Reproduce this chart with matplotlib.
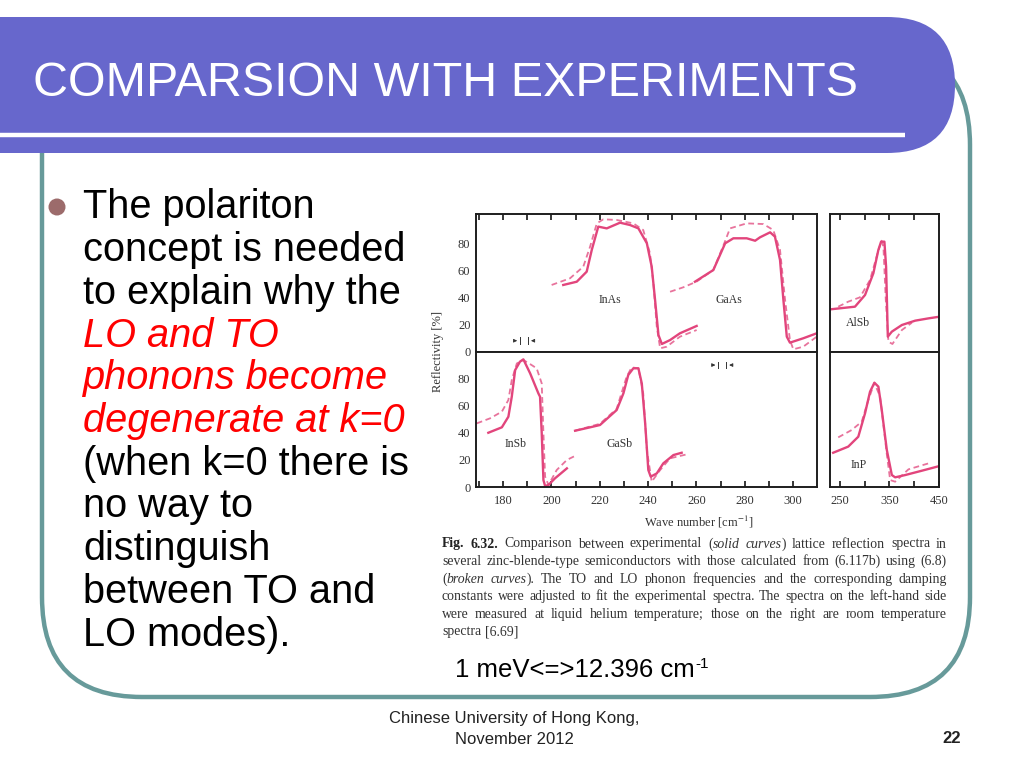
import matplotlib
matplotlib.use('Agg')
import matplotlib.pyplot as plt
from matplotlib.patches import FancyBboxPatch, Circle
from matplotlib.font_manager import FontProperties

plt.rcParams['mathtext.fontset'] = 'stix'

# ---------------- data (wave number cm^-1, reflectivity %) ----------------
inas_exp_x = [204.9, 210.5, 214.6, 216.7, 219.4, 222.9, 228.4, 232.5, 236.0, 239.5, 241.5, 242.9, 244.3, 245.7, 249.1, 253.2, 260.1]
inas_exp_y = [49.4, 51.8, 59.2, 75.2, 92.4, 91.1, 95.3, 93.6, 91.1, 80.1, 62.9, 38.3, 12.5, 5.9, 8.8, 13.8, 19.2]
inas_calc_x = [200.1, 207.7, 213.2, 216.0, 218.8, 221.5, 227.0, 233.9, 238.0, 240.8, 242.2, 243.6, 245.0, 247.7, 253.2, 260.1]
inas_calc_y = [49.4, 54.3, 62.9, 77.6, 94.8, 97.8, 97.3, 94.8, 89.9, 72.7, 50.6, 18.7, 2.7, 3.9, 11.3, 16.2]

gaas_exp_x = [259.4, 267.0, 271.9, 275.3, 280.8, 284.3, 286.3, 290.5, 292.5, 294.6, 296.0, 297.4, 298.7, 304.2, 309.8]
gaas_exp_y = [51.8, 60.4, 80.1, 83.8, 83.8, 82.0, 84.5, 88.2, 85.0, 67.8, 38.3, 11.3, 6.9, 10.1, 13.8]
gaas_calc_x = [249.1, 254.6, 260.0, 267.0, 271.5, 273.9, 280.8, 287.7, 291.8, 294.6, 296.7, 298.7, 300.1, 304.2, 309.8]
gaas_calc_y = [44.4, 47.7, 51.8, 60.4, 80.0, 91.1, 94.8, 94.3, 89.9, 75.2, 38.3, 8.8, 2.0, 3.9, 11.3]

insb_exp_x = [173.9, 179.5, 182.2, 183.6, 185.0, 187.0, 188.4, 191.2, 194.6, 195.3, 196.0, 196.7, 197.4, 198.8, 201.5, 206.4]
insb_exp_y = [39.9, 43.9, 51.7, 66.4, 86.0, 92.2, 93.9, 83.6, 68.9, 66.4, 39.5, 5.1, 0.7, 1.5, 6.4, 13.7]
insb_calc_x = [169.1, 174.6, 179.5, 182.2, 183.6, 185.7, 188.4, 191.2, 193.9, 196.0, 196.7, 197.4, 198.8, 202.2, 206.4, 210.5]
insb_calc_y = [46.8, 50.5, 55.4, 64.0, 78.7, 90.9, 93.4, 90.4, 87.3, 76.2, 39.5, 7.6, 1.5, 12.5, 19.9, 23.5]

gasb_exp_x = [209.8, 216.0, 220.1, 227.0, 229.8, 231.8, 233.9, 236.0, 237.4, 238.8, 240.1, 241.1, 243.6, 246.3, 250.5, 253.9]
gasb_exp_y = [41.4, 43.9, 45.6, 56.6, 68.9, 82.4, 87.3, 87.3, 76.2, 46.8, 12.5, 7.6, 10.0, 17.4, 23.5, 25.2]
gasb_calc_x = [209.8, 216.0, 220.1, 227.0, 231.1, 233.2, 236.0, 238.0, 239.5, 241.5, 245.0, 249.1, 256.7]
gasb_calc_y = [41.4, 44.5, 46.5, 57.5, 81.0, 88.0, 87.3, 68.9, 27.2, 3.9, 12.5, 21.1, 24.3]

alsb_exp_x = [229.7, 280.4, 300.7, 317.5, 327.6, 333.1, 339.8, 343.2, 346.7, 354.8, 375.1, 402.0, 429.0, 450.7]
alsb_exp_y = [31.4, 33.4, 42.0, 58.0, 75.2, 81.3, 81.3, 62.9, 11.3, 15.0, 19.9, 23.1, 24.8, 26.0]
alsb_calc_x = [246.6, 266.8, 290.5, 310.8, 325.0, 334.0, 337.8, 342.6, 347.9, 356.0, 375.1, 395.3]
alsb_calc_y = [33.4, 37.1, 40.3, 53.1, 71.5, 82.0, 77.6, 38.3, 7.6, 5.9, 16.2, 21.6]

inp_exp_x = [236.4, 266.8, 287.1, 300.7, 310.8, 319.6, 327.7, 334.5, 344.7, 354.8, 361.5, 381.8, 415.6, 450.7]
inp_exp_y = [25.2, 29.7, 37.0, 54.2, 70.1, 76.7, 73.8, 56.6, 27.2, 8.8, 7.1, 8.8, 12.0, 15.4]
inp_calc_x = [246.6, 273.7, 294.0, 307.4, 319.6, 331.1, 344.7, 351.4, 361.5, 388.4, 429.0]
inp_calc_y = [36.5, 41.9, 48.0, 64.0, 76.7, 66.4, 24.0, 5.1, 3.9, 13.0, 17.4]

left_xticks = list(range(170, 310, 10))
right_xticks = [250, 300, 350, 400, 450]
right_xlabels = ['250', '', '350', '', '450']
yticks = [0, 20, 40, 60, 80]

title = 'COMPARSION WITH EXPERIMENTS'
body_lines = [
    ('The polariton', 'k'), ('concept is needed', 'k'), ('to explain why the', 'k'),
    ('LO and TO', 'r'), ('phonons become', 'r'), ('degenerate at k=0', 'r'),
    ('(when k=0 there is', 'k'), ('no way to', 'k'), ('distinguish', 'k'),
    ('between TO and', 'k'), ('LO modes).', 'k'),
]
caption_lines = [
    "#Fig. #6.32. Comparison between experimental (|*solid *curves|) lattice reflection spectra in",
    "several zinc-blende-type semiconductors with those calculated from (6.117b) using (6.8)",
    "(|*broken *curves|). The TO and LO phonon frequencies and the corresponding damping",
    "constants were adjusted to fit the experimental spectra. The spectra on the left-hand side",
    "were measured at liquid helium temperature; those on the right are room temperature",
    "spectra [6.69]",
]

# ---------------- figure ----------------
W, H = 1024, 768
fig = plt.figure(figsize=(W / 100, H / 100), dpi=100)
bg = fig.add_axes([0, 0, 1, 1], zorder=0)
bg.set_xlim(0, W)
bg.set_ylim(H, 0)
bg.axis('off')

SANS = ['Liberation Sans', 'DejaVu Sans']
SERIF = ['Liberation Serif', 'DejaVu Serif']
TEAL = '#679a9a'

# teal rounded frame (its top is hidden behind the title banner)
bg.add_patch(FancyBboxPatch((42, 45), 928, 652,
                            boxstyle='round,pad=0,rounding_size=100',
                            fc='none', ec=TEAL, lw=3.2, zorder=1))
# title banner
bg.add_patch(FancyBboxPatch((-200, 17), 1155, 136,
                            boxstyle='round,pad=0,rounding_size=68',
                            fc='#6767cc', ec='none', zorder=2))
bg.plot([0, 905], [135, 135], color='white', lw=3.2, solid_capstyle='butt', zorder=3)
bg.text(33, 96, title, color='white', fontsize=34.8, family=SANS, va='baseline', ha='left', zorder=4)

# bullet & body
bg.add_patch(Circle((57, 207), 8.5, fc='#9c6b6b', ec='none', zorder=4))
for i, (line, c) in enumerate(body_lines):
    red = (c == 'r')
    bg.text(83, 218.5 + 42.7 * i, line, fontsize=28.6, family=SANS,
            color='#ff0000' if red else 'black', style='italic' if red else 'normal',
            va='baseline', ha='left', zorder=4)

# caption, justified
renderer = fig.canvas.get_renderer()
CAP_SIZE = 9.9


def fprop(st):
    return FontProperties(family=SERIF, size=CAP_SIZE,
                          weight='bold' if st == 'b' else 'normal',
                          style='italic' if st == 'i' else 'normal')


def twidth(s, st):
    w, h, d = renderer.get_text_width_height_descent(s, fprop(st), ismath=False)
    return w


space_w = twidth('a a', 'n') - twidth('aa', 'n')
cap_left, cap_right = 442, 947
for li, line in enumerate(caption_lines):
    words = []
    for wtok in line.split(' '):
        frags = []
        for f in wtok.split('|'):
            if f.startswith('#'):
                frags.append((f[1:], 'b'))
            elif f.startswith('*'):
                frags.append((f[1:], 'i'))
            else:
                frags.append((f, 'n'))
        words.append(frags)
    widths = [sum(twidth(t, st) for t, st in w) for w in words]
    last = (li == len(caption_lines) - 1)
    if last or len(words) < 2:
        gap = space_w
    else:
        gap = max(1.5, (cap_right - cap_left - sum(widths)) / (len(words) - 1))
    x = cap_left
    yb = 547.5 + 17.6 * li
    for w, ww in zip(words, widths):
        xx = x
        for t, st in w:
            bg.text(xx, yb, t, fontproperties=fprop(st),
                    color='#222222' if st == 'b' else '#333333',
                    va='baseline', ha='left', zorder=4)
            xx += twidth(t, st)
        x += ww + gap

# conversion note
note_main = '1 meV<=>12.396 cm'
bg.text(455, 677, note_main, fontsize=18.5, family=SANS, va='baseline', ha='left', zorder=4)
nw = renderer.get_text_width_height_descent(note_main, FontProperties(family=SANS, size=18.5), ismath=False)[0]
bg.text(455 + nw + 1, 668, '-1', fontsize=11, family=SANS, va='baseline', ha='left', zorder=4)

# footer
bg.text(514, 723, 'Chinese University of Hong Kong,', fontsize=12, family=SANS, ha='center', va='baseline', color='#222222')
bg.text(514, 744, 'November 2012', fontsize=12, family=SANS, ha='center', va='baseline', color='#222222')
bg.text(961, 743, '22', fontsize=12, family=SANS, weight='bold', ha='right', va='baseline', color='#222222')

# ---------------- chart axes ----------------
SOLID = '#e2457c'
DASH = '#e8739c'


def make_ax(x0, y0, x1, y1):
    return fig.add_axes([x0 / W, 1 - y1 / H, (x1 - x0) / W, (y1 - y0) / H], zorder=2)


ax_tl = make_ax(476, 214, 817, 352)
ax_bl = make_ax(476, 352, 817, 487)
ax_tr = make_ax(830, 214, 939, 352)
ax_br = make_ax(830, 352, 939, 487)

for ax in (ax_tl, ax_bl, ax_tr, ax_br):
    for sp in ax.spines.values():
        sp.set_linewidth(1.4)
        sp.set_color('#1e1e1e')
    ax.set_facecolor('white')

tick_font = FontProperties(family=SERIF, size=9)


def plot_pair(ax, ex, ey, cx, cy):
    ax.plot(cx, cy, color=DASH, lw=1.3, ls=(0, (3.2, 2.0)))
    ax.plot(ex, ey, color=SOLID, lw=1.7)


plot_pair(ax_tl, inas_exp_x, inas_exp_y, inas_calc_x, inas_calc_y)
plot_pair(ax_tl, gaas_exp_x, gaas_exp_y, gaas_calc_x, gaas_calc_y)
plot_pair(ax_bl, insb_exp_x, insb_exp_y, insb_calc_x, insb_calc_y)
plot_pair(ax_bl, gasb_exp_x, gasb_exp_y, gasb_calc_x, gasb_calc_y)
plot_pair(ax_tr, alsb_exp_x, alsb_exp_y, alsb_calc_x, alsb_calc_y)
plot_pair(ax_br, inp_exp_x, inp_exp_y, inp_calc_x, inp_calc_y)

ax_tl.set_xlim(168.8, 309.9)
ax_bl.set_xlim(168.8, 309.9)
ax_tr.set_xlim(230, 450)
ax_br.set_xlim(230, 450)
ax_tl.set_ylim(0, 101.7)
ax_tr.set_ylim(0, 101.7)
ax_bl.set_ylim(0, 99.3)
ax_br.set_ylim(0, 99.3)

for ax in (ax_tl, ax_bl):
    ax.set_xticks(left_xticks)
    ax.set_yticks(yticks)
    ax.set_yticklabels([str(v) for v in yticks], fontproperties=tick_font, color='#333333')
    ax.tick_params(axis='y', length=0, pad=4)
for ax in (ax_tr, ax_br):
    ax.set_xticks(right_xticks)
    ax.set_yticks([])

ax_tl.tick_params(axis='x', top=True, bottom=False, labeltop=False, labelbottom=False,
                  direction='in', length=4, width=1.1)
ax_tr.tick_params(axis='x', top=True, bottom=False, labeltop=False, labelbottom=False,
                  direction='in', length=4, width=1.1)
ax_bl.set_xticklabels(['' if v % 20 else str(v) for v in left_xticks], fontproperties=tick_font, color='#333333')
ax_bl.tick_params(axis='x', direction='in', length=4, width=1.1, pad=6)
ax_br.set_xticklabels(right_xlabels, fontproperties=tick_font, color='#333333')
ax_br.tick_params(axis='x', direction='in', length=4, width=1.1, pad=6)

# panel labels
lab_font = dict(family=SERIF, size=8.5, color='#333333', ha='center', va='center')
ax_tl.text(224.3, 38.3, 'InAs', **lab_font)
ax_tl.text(273.5, 38.3, 'GaAs', **lab_font)
ax_bl.text(185.0, 31.4, 'InSb', **lab_font)
ax_bl.text(228.4, 31.4, 'GaSb', **lab_font)
ax_tr.text(285.8, 21.1, 'AlSb', **lab_font)
ax_br.text(287.1, 16.2, 'InP', **lab_font)

# spectral resolution markers
res_markers = [(ax_tl, 187.0, 190.4, 8.3), (ax_bl, 269.0, 272.4, 89.7)]
for ax, xa, xb, yy in res_markers:
    ax.annotate('', xy=(xa, yy), xytext=(xa - 3.5, yy),
                arrowprops=dict(arrowstyle='-|>', color='#333333', lw=0.6, mutation_scale=5))
    ax.annotate('', xy=(xb, yy), xytext=(xb + 3.5, yy),
                arrowprops=dict(arrowstyle='-|>', color='#333333', lw=0.6, mutation_scale=5))
    ax.plot([xa, xa], [yy - 2.5, yy + 2.5], color='#333333', lw=0.7)
    ax.plot([xb, xb], [yy - 2.5, yy + 2.5], color='#333333', lw=0.7)

# axis titles
fig.text(438 / W, 1 - 352 / H, 'Reflectivity [%]', rotation=90, ha='center', va='center',
         family=SERIF, size=9, color='#333333')
fig.text(699 / W, 1 - 522 / H, 'Wave number [cm$^{-1}$]', ha='center', va='center',
         family=SERIF, size=9, color='#333333')

fig.savefig('out.png', dpi=100)
